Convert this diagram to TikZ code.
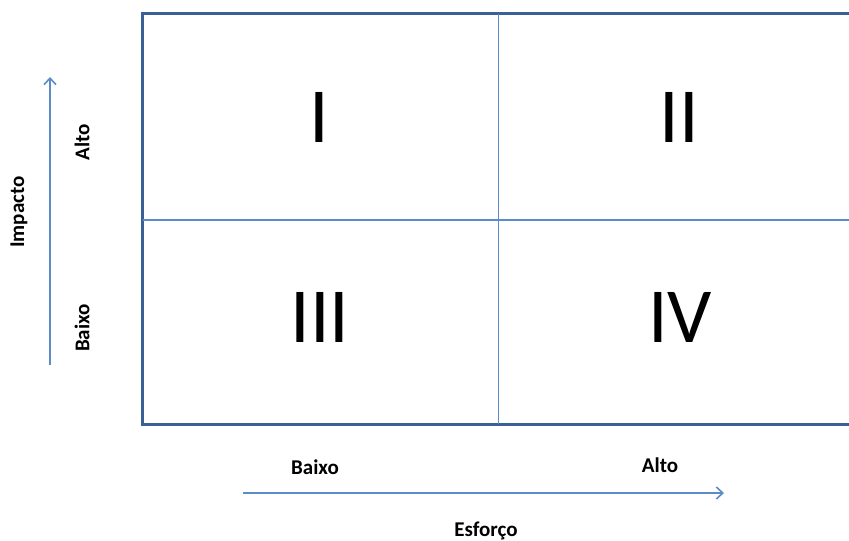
\documentclass[tikz,border=0pt]{standalone}
\usepackage{fontspec}
\setmainfont{Carlito}
\usetikzlibrary{arrows.meta}
\definecolor{framec}{HTML}{3A6096}
\definecolor{linec}{HTML}{5B8BC9}
\tikzset{
  frameline/.style={draw=framec, line width=3pt, line join=miter},
  gridline/.style={draw=linec, line width=1.6pt},
  axisarrow/.style={draw=linec, line width=1.6pt, -{Straight Barb[length=6.5pt,width=12pt,line width=1.6pt]}},
  quad/.style={font=\fontsize{78}{78}\selectfont, inner sep=0pt},
  axlabel/.style={font=\fontsize{21}{21}\selectfont\bfseries, inner sep=0pt}
}
\begin{document}
\begin{tikzpicture}[x=1pt,y=1pt]
\useasboundingbox (0,0) rectangle (849,541);
% frame
\coordinate (tr) at (860,527);
\coordinate (tl) at (142.5,527);
\coordinate (bl) at (142.5,116.5);
\coordinate (br) at (860,116.5);
\draw[frameline] (tr) -- (tl) -- (bl) -- (br);
% grid lines
\coordinate (vt) at (498.5,527);
\coordinate (vb) at (498.5,116.5);
\coordinate (hl) at (142.5,321);
\coordinate (hr) at (860,321);
\draw[gridline] (vt) -- (vb);
\draw[gridline] (hl) -- (hr);
% quadrant numerals
\node[quad] (q1) at (319,424) {I};
\node[quad] (q2) at (679,424) {II};
\node[quad] (q3) at (320,224) {III};
\node[quad] (q4) at (680,224) {IV};
% vertical axis
\coordinate (va) at (50,176);
\coordinate (vz) at (50,464);
\draw[axisarrow] (va) -- (vz);
\node[axlabel, rotate=90] (imp) at (19,329) {Impacto};
\node[axlabel, rotate=90] (valto) at (82,399) {Alto};
\node[axlabel, rotate=90] (vbaixo) at (82,213) {Baixo};
% horizontal axis
\coordinate (ha) at (243,48);
\coordinate (hz) at (724,48);
\draw[axisarrow] (ha) -- (hz);
\node[axlabel] (hbaixo) at (315,74) {Baixo};
\node[axlabel] (halto) at (660,76) {Alto};
\node[axlabel] (esf) at (486,10) {Esforço};
\end{tikzpicture}
\end{document}
